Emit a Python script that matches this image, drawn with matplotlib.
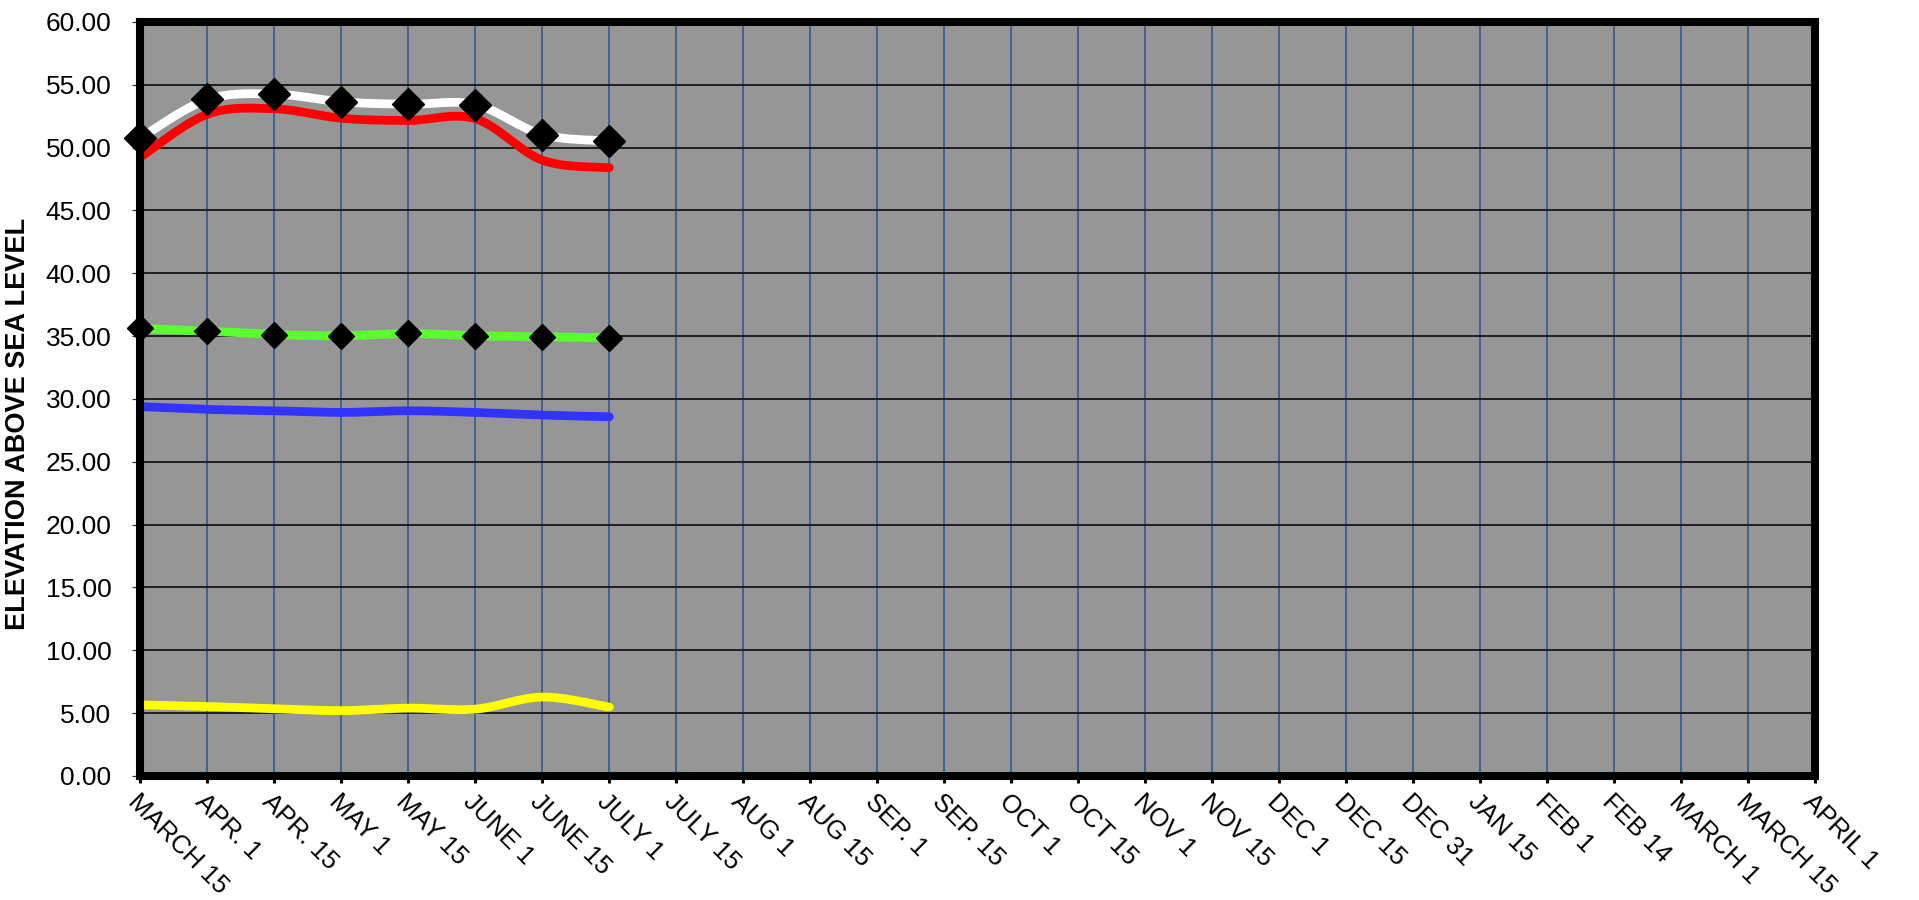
import numpy as np
import matplotlib
matplotlib.use("Agg")
import matplotlib.pyplot as plt
from matplotlib.ticker import FormatStrFormatter, MultipleLocator

categories = ["MARCH 15", "APR. 1", "APR. 15", "MAY 1", "MAY 15", "JUNE 1", "JUNE 15",
              "JULY 1", "JULY 15", "AUG 1", "AUG 15", "SEP. 1", "SEP. 15", "OCT 1",
              "OCT 15", "NOV 1", "NOV 15", "DEC 1", "DEC 15", "DEC 31", "JAN 15",
              "FEB 1", "FEB 14", "MARCH 1", "MARCH 15", "APRIL 1"]

white_vals = [50.77, 53.83, 54.26, 53.64, 53.45, 53.43, 51.04, 50.53]
red_vals = [49.25, 52.66, 53.09, 52.34, 52.16, 52.30, 49.00, 48.40]
green_vals = [35.61, 35.40, 35.13, 35.03, 35.21, 35.03, 34.95, 34.87]
blue_vals = [29.39, 29.17, 29.06, 28.93, 29.06, 28.93, 28.72, 28.58]
yellow_vals = [5.66, 5.53, 5.35, 5.20, 5.40, 5.32, 6.28, 5.48]

y_label = "ELEVATION ABOVE SEA LEVEL"

plt.rcParams["font.family"] = ["Liberation Sans", "DejaVu Sans"]


def smooth(xs, ys, n=30):
    """Excel-style smoothed curve (Catmull-Rom Bezier) through the points."""
    xs = np.asarray(xs, float)
    ys = np.asarray(ys, float)
    P = np.column_stack([xs, ys])
    m = len(P)
    out = []
    t = np.linspace(0, 1, n)
    for i in range(m - 1):
        p0 = P[i - 1] if i > 0 else P[i]
        p1 = P[i]
        p2 = P[i + 1]
        p3 = P[i + 2] if i + 2 < m else P[i + 1]
        c1 = p1 + (p2 - p0) / 6.0
        c2 = p2 - (p3 - p1) / 6.0
        seg = ((1 - t)[:, None] ** 3 * p1 + 3 * ((1 - t) ** 2 * t)[:, None] * c1
               + 3 * ((1 - t) * t ** 2)[:, None] * c2 + (t ** 3)[:, None] * p2)
        out.append(seg if i == 0 else seg[1:])
    s = np.vstack(out)
    return s[:, 0], s[:, 1]


fig = plt.figure(figsize=(19.19, 9.0), dpi=100)
ax = fig.add_axes([0.0732, 0.1378, 0.8726, 0.8378])
ax.set_facecolor("#969696")

x_all = np.arange(len(categories))
n = len(white_vals)
xs = x_all[:n]

lw = 6.3
for vals, col, z in [(yellow_vals, "#FFFF00", 3), (blue_vals, "#3333FF", 3),
                     (green_vals, "#5CFF2E", 3), (white_vals, "#FFFFFF", 3),
                     (red_vals, "#FF0000", 4)]:
    sx, sy = smooth(xs, vals)
    ax.plot(sx, sy, color=col, lw=lw, solid_capstyle="round", zorder=z)

ax.plot(xs, white_vals, ls="none", marker="D", ms=16.5, color="black", zorder=6, clip_on=False)
ax.plot(xs, green_vals, ls="none", marker="D", ms=13, color="black", zorder=6, clip_on=False)

ax.set_xlim(0, len(categories) - 1)
ax.set_ylim(0, 60)
ax.yaxis.set_major_locator(MultipleLocator(5))
ax.yaxis.set_major_formatter(FormatStrFormatter("%.2f"))
ax.set_xticks(x_all)
ax.set_xticklabels(categories, rotation=-45, ha="left", va="top",
                   rotation_mode="anchor", fontsize=18.5)
ax.tick_params(axis="y", labelsize=19, length=6, width=0.9, color="#333333", pad=15)
ax.tick_params(axis="x", length=5, width=2.2, color="black", pad=5)

ax.grid(axis="x", color="#3A5F95", lw=1.3, zorder=1)
ax.grid(axis="y", color="#1E1E1E", lw=1.4, zorder=1)
ax.set_axisbelow(True)

for sp in ax.spines.values():
    sp.set_linewidth(5.8)
    sp.set_color("black")
    sp.set_zorder(5)

ax.set_ylabel(y_label, fontsize=19.5, fontweight="bold")
ax.yaxis.set_label_coords(-0.0655, 0.4675)

fig.savefig("out.png", dpi=100, facecolor="white")
